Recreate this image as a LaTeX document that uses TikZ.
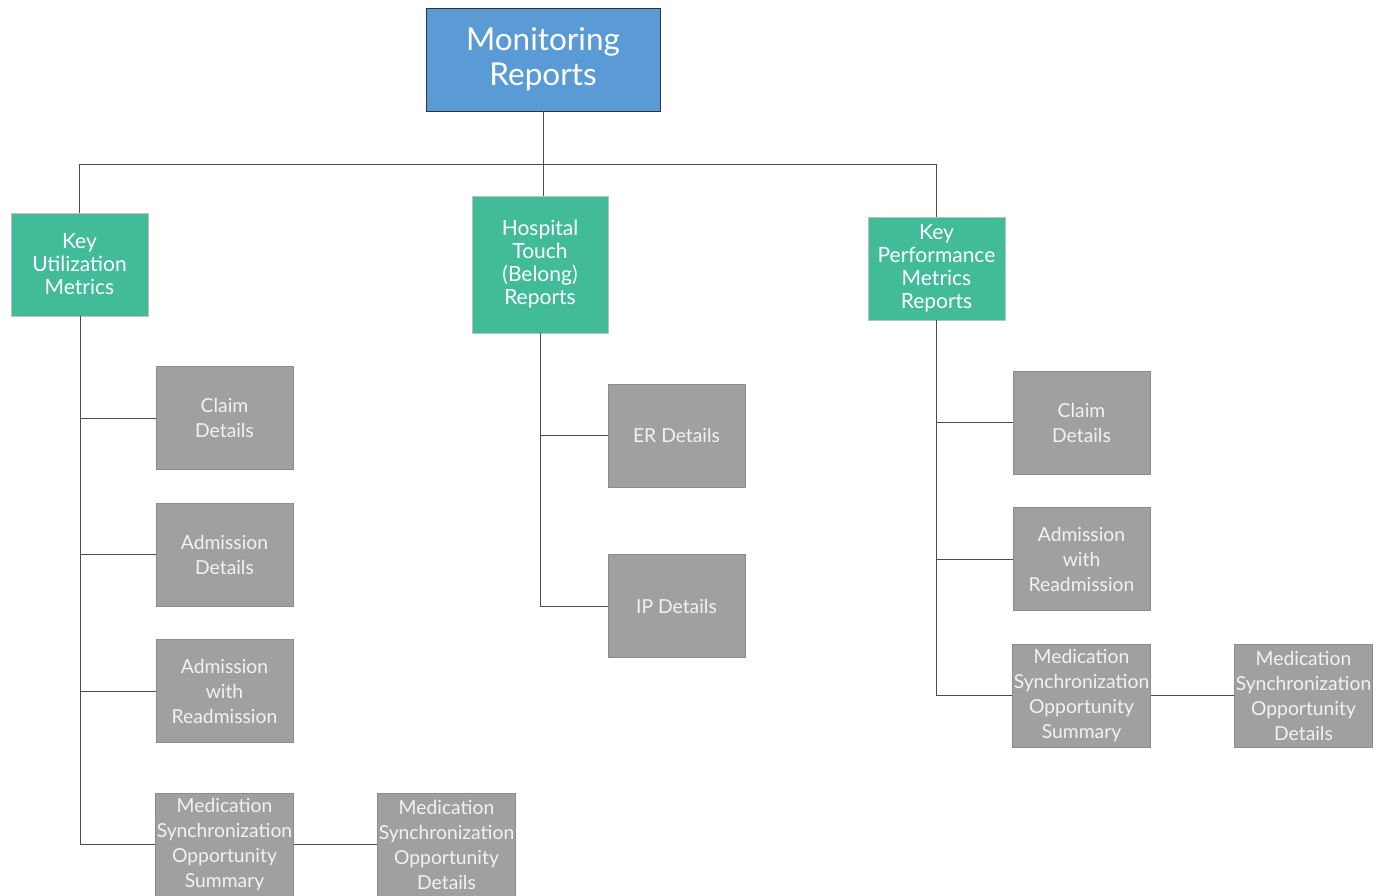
\documentclass[tikz,border=0pt]{standalone}
\usepackage{fontspec}
\setmainfont{Lato}
\begin{document}
\begin{tikzpicture}[x=1pt,y=-1pt,
  base/.style={draw=black!55, line width=0.8pt, align=center, text=white, inner sep=1pt, minimum width=137pt, minimum height=103pt},
  top/.style={base, fill=topblue, draw=black!80, minimum width=234pt, minimum height=103pt, font=\fontsize{31.5}{35}\selectfont},
  cat/.style={base, fill=catgreen, draw=black!25, font=\fontsize{21}{23}\selectfont},
  leaf/.style={base, fill=leafgray, draw=black!45, text=white!95!black, font=\fontsize{19.3}{25}\selectfont},
  conn/.style={draw=black!70, line width=0.8pt}]
\definecolor{topblue}{HTML}{5B9BD5}
\definecolor{catgreen}{HTML}{41BB98}
\definecolor{leafgray}{HTML}{A0A0A0}
\useasboundingbox (0,0) rectangle (1390,895);
\node[top] (mr) at (543,59.5) {Monitoring\\Reports};
\node[cat] (kum) at (79.5,264.5) {Key\\Utilization\\Metrics};
\node[cat, minimum width=136pt, minimum height=137pt] (ht) at (540,264.5) {Hospital\\Touch\\(Belong)\\Reports};
\node[cat] (kpm) at (936.5,268.5) {Key\\Performance\\Metrics\\Reports};
% left
\node[leaf] (l1) at (224.5,418) {Claim\\Details};
\node[leaf] (l2) at (224.5,554.5) {Admission\\Details};
\node[leaf] (l3) at (224.5,691) {Admission\\with\\Readmission};
\node[leaf] (l4) at (224.5,844.5) {Medication\\Synchronization\\Opportunity\\Summary};
\node[leaf] (l5) at (446.5,844.5) {Medication\\Synchronization\\Opportunity\\Details};
% middle
\node[leaf] (m1) at (676.5,435.5) {ER Details};
\node[leaf] (m2) at (676.5,606) {IP Details};
% right
\node[leaf] (r1) at (1081.5,422.5) {Claim\\Details};
\node[leaf] (r2) at (1081.5,559) {Admission\\with\\Readmission};
\node[leaf] (r3) at (1081.5,695.5) {Medication\\Synchronization\\Opportunity\\Summary};
\node[leaf] (r4) at (1303.5,695.5) {Medication\\Synchronization\\Opportunity\\Details};
% top connectors
\coordinate (bus) at (543,164);
\draw[conn] (mr.south) -- (bus);
\draw[conn] (bus) -| (kum.north);
\draw[conn] (bus) -| (kpm.north);
\draw[conn] (bus) -- (bus |- ht.north);
% left trunk
\coordinate (lt) at (80,0);
\draw[conn] (lt |- kum.south) -- (lt |- l4.west);
\foreach \n in {l1,l2,l3,l4} \draw[conn] (lt |- \n.west) -- (\n.west);
\draw[conn] (l4.east) -- (l5.west);
% middle trunk
\coordinate (mt) at (540,0);
\draw[conn] (ht.south) -- (mt |- m2.west);
\foreach \n in {m1,m2} \draw[conn] (mt |- \n.west) -- (\n.west);
% right trunk
\coordinate (rt) at (936.5,0);
\draw[conn] (kpm.south) -- (rt |- r3.west);
\foreach \n in {r1,r2,r3} \draw[conn] (rt |- \n.west) -- (\n.west);
\draw[conn] (r3.east) -- (r4.west);
\end{tikzpicture}
\end{document}
